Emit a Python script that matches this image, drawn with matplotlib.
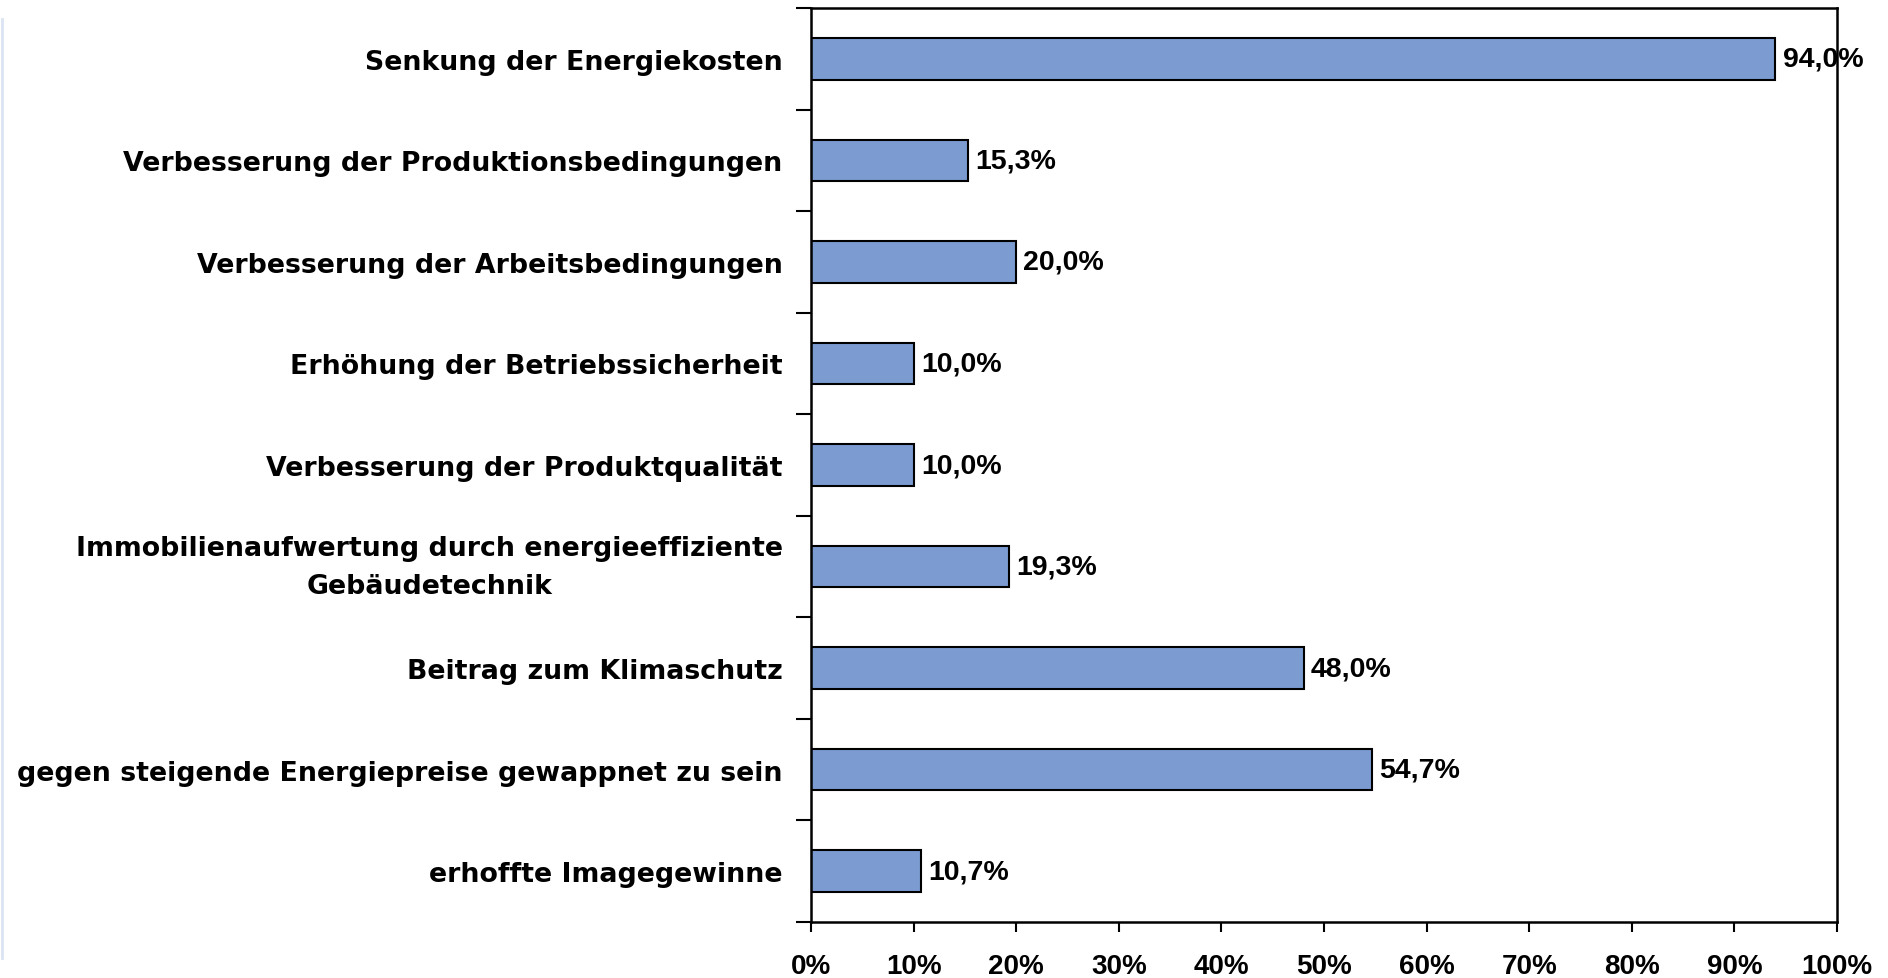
import matplotlib.pyplot as plt
import numpy as np
from matplotlib.lines import Line2D
from matplotlib.ticker import FixedLocator, MultipleLocator, FuncFormatter

categories = [
    "Senkung der Energiekosten",
    "Verbesserung der Produktionsbedingungen",
    "Verbesserung der Arbeitsbedingungen",
    "Erhöhung der Betriebssicherheit",
    "Verbesserung der Produktqualität",
    "Immobilienaufwertung durch energieeffiziente\nGebäudetechnik",
    "Beitrag zum Klimaschutz",
    "gegen steigende Energiepreise gewappnet zu sein",
    "erhoffte Imagegewinne",
]
values = [94.0, 15.3, 20.0, 10.0, 10.0, 19.3, 48.0, 54.7, 10.7]

plt.rcParams["font.family"] = ["Liberation Sans", "DejaVu Sans"]
plt.rcParams["font.weight"] = "bold"

fig = plt.figure(figsize=(18.88, 9.79), dpi=100)
ax = fig.add_axes([0.4296, 0.0572, 0.5434, 0.9336])

pos = np.arange(len(categories))
ax.barh(pos, values, height=0.41, color="#7b9bd1", edgecolor="black", linewidth=1.5)

for y, v in zip(pos, values):
    ax.text(v + 0.7, y, f"{v:.1f}%".replace(".", ","), va="center", ha="left",
            fontsize=20.5, fontweight="bold")

ax.set_xlim(0, 100)
ax.set_ylim(len(categories) - 0.5, -0.5)

ax.xaxis.set_major_locator(MultipleLocator(10))
ax.xaxis.set_major_formatter(FuncFormatter(lambda x, _: f"{x:.0f}%"))
ax.tick_params(axis="x", direction="out", length=7, width=1.5, pad=15, labelsize=20)

# category labels are set wide in the original -> DejaVu matches the extent
ax.set_yticks(pos)
ax.set_yticklabels(categories, fontsize=19.3, fontweight="bold",
                   family="DejaVu Sans", multialignment="center", linespacing=1.6)
for lbl in ax.get_yticklabels():
    if "\n" in lbl.get_text():
        lbl.set_verticalalignment("center")
ax.yaxis.set_tick_params(which="major", length=0, pad=20.5)
ax.yaxis.set_minor_locator(FixedLocator(np.arange(-0.5, len(categories), 1.0)))
ax.tick_params(axis="y", which="minor", direction="out", length=11, width=1.5)

for s in ax.spines.values():
    s.set_linewidth(1.8)

# faint slide frame on the left edge
fig.add_artist(Line2D([0.0012, 0.0012], [0.02, 0.98], transform=fig.transFigure,
                      color="#dbe4f3", linewidth=2))

fig.savefig("out.png", dpi=100)
